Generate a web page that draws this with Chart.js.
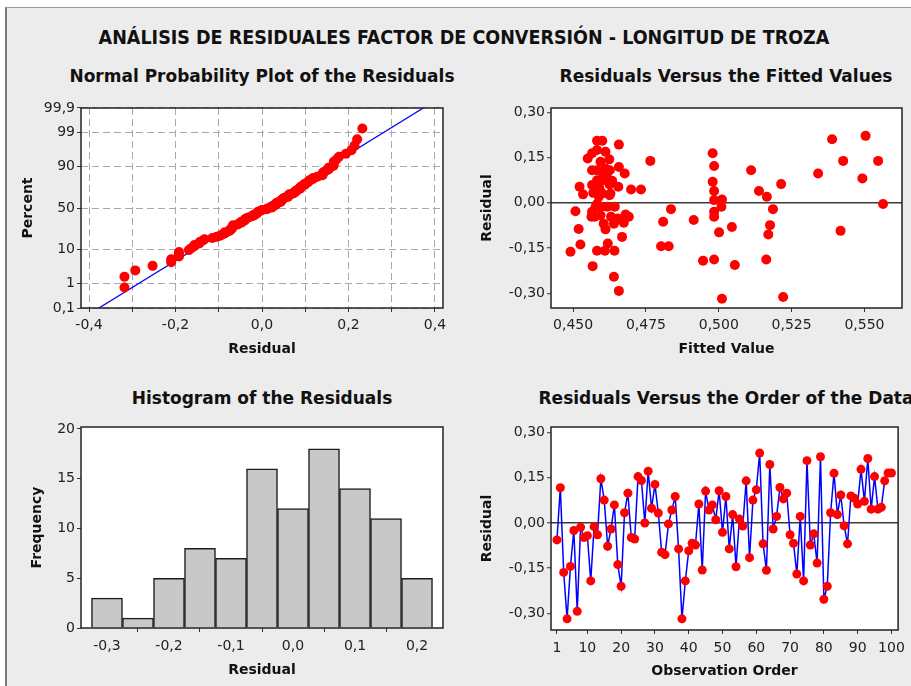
<!DOCTYPE html>
<html lang="es">
<head>
<meta charset="UTF-8">
<title>Análisis de residuales</title>
<script src="https://cdn.jsdelivr.net/npm/chart.js"></script>
<style>
  html, body { margin: 0; padding: 0; }
  body { width: 911px; height: 686px; overflow: hidden; position: relative; background: #fff; }
  #frame { position: absolute; left: 5px; top: 7px; width: 906px; height: 679px; background: #ececec;
           border-left: 2px solid #7a7a7a; border-top: 1px solid #9a9a9a; }
  #mainTitle { position: absolute; left: 0; width: 928px; top: 26px; text-align: center;
               font: bold 19.5px "DejaVu Sans Condensed", "DejaVu Sans", sans-serif; color: #111; }
  .ptitle { position: absolute; width: 500px; text-align: center;
            font: bold 17px "DejaVu Sans", sans-serif; color: #111; white-space: nowrap; }
  canvas { position: absolute; }
</style>
</head>
<body>
<div id="frame"></div>
<div id="mainTitle">ANÁLISIS DE RESIDUALES FACTOR DE CONVERSIÓN - LONGITUD DE TROZA</div>
<div class="ptitle" style="left:12px; top:66px;">Normal Probability Plot of the Residuals</div>
<div class="ptitle" style="left:476px; top:66px;">Residuals Versus the Fitted Values</div>
<div class="ptitle" style="left:12px; top:388px;">Histogram of the Residuals</div>
<div class="ptitle" style="left:476px; top:388px;">Residuals Versus the Order of the Data</div>
<canvas id="normChart" width="460" height="320" style="left:0; top:60px;"></canvas>
<canvas id="fitChart" width="451" height="320" style="left:460px; top:60px;"></canvas>
<canvas id="histChart" width="460" height="306" style="left:0; top:380px;"></canvas>
<canvas id="orderChart" width="451" height="306" style="left:460px; top:380px;"></canvas>
<script>
const orderResid = [
  -0.056, 0.117, -0.164, -0.318, -0.144, -0.025, -0.293, -0.014, -0.048, -0.042,
  -0.192, -0.012, -0.039, 0.147, 0.076, -0.077, -0.020, 0.060, -0.138, -0.210,
  0.034, 0.099, -0.048, -0.053, 0.154, 0.141, 0.000, 0.172, 0.049, 0.128,
  0.033, -0.097, -0.105, -0.003, 0.043, 0.088, -0.086, -0.318, -0.192, -0.092,
  -0.067, -0.073, 0.063, -0.156, 0.106, 0.043, 0.060, 0.011, 0.107, -0.031,
  0.088, -0.086, 0.028, -0.145, 0.013, -0.010, 0.140, -0.115, 0.076, 0.110,
  0.232, -0.069, -0.157, 0.194, -0.020, 0.022, 0.118, 0.080, 0.099, -0.039,
  -0.067, -0.169, 0.022, -0.192, 0.207, -0.073, -0.036, -0.133, 0.220, -0.253,
  -0.210, 0.034, 0.165, 0.028, 0.093, -0.009, -0.069, 0.090, 0.082, 0.063,
  0.178, 0.072, 0.214, 0.046, 0.154, 0.046, 0.052, 0.140, 0.166, 0.166
];

const fittedVals = [
  0.4491, 0.4508, 0.4519, 0.4525, 0.4522, 0.4534, 0.4550, 0.4565, 0.4567, 0.4565,
  0.4565, 0.4563, 0.4569, 0.4582, 0.4582, 0.4582, 0.4582, 0.4582, 0.4590, 0.4594,
  0.4594, 0.4594, 0.4600, 0.4603, 0.4605, 0.4611, 0.4611, 0.4609, 0.4611, 0.4617,
  0.4619, 0.4624, 0.4625, 0.4625, 0.4634, 0.4640, 0.4642, 0.4643, 0.4640, 0.4655,
  0.4657, 0.4657, 0.4657, 0.4653, 0.4668, 0.4674, 0.4677, 0.4680, 0.4691, 0.4577,
  0.4588, 0.4603, 0.4617, 0.4628, 0.4565, 0.4600, 0.4582, 0.4626, 0.4574, 0.4630,
  0.4765, 0.4699, 0.4733, 0.4809, 0.4836, 0.4802, 0.4828, 0.4914, 0.4946, 0.4979,
  0.4984, 0.4979, 0.4984, 0.4984, 0.5011, 0.4984, 0.4984, 0.5009, 0.5001, 0.5045,
  0.4984, 0.5055, 0.5011, 0.5111, 0.5138, 0.5165, 0.5186, 0.5176, 0.5170, 0.5163,
  0.5214, 0.5221, 0.5341, 0.5389, 0.5427, 0.5418, 0.5504, 0.5493, 0.5547, 0.5564
];
const fittedResid = [
  -0.162, -0.028, -0.087, -0.138, 0.053, 0.028, 0.147, 0.164, -0.210, 0.108,
  0.059, -0.046, 0.033, 0.206, 0.175, 0.108, -0.004, -0.159, 0.048, 0.136,
  -0.013, -0.041, 0.206, 0.086, -0.069, 0.169, 0.114, -0.159, -0.088, 0.083,
  -0.135, 0.144, 0.025, 0.061, 0.073, -0.245, -0.159, -0.013, -0.069, 0.053,
  0.193, 0.119, -0.292, -0.052, -0.113, -0.066, 0.097, -0.039, -0.046, -0.013,
  0.020, 0.075, -0.013, 0.031, -0.030, 0.031, 0.075, 0.108, -0.046, -0.046,
  0.139, 0.044, 0.044, -0.063, -0.021, -0.144, -0.144, -0.057, -0.192, 0.164,
  0.122, 0.070, 0.039, 0.009, 0.011, -0.030, -0.046, -0.013, -0.098, -0.080,
  -0.188, -0.206, -0.318, 0.108, 0.039, 0.020, -0.021, -0.074, -0.105, -0.188,
  0.062, -0.312, 0.097, 0.211, 0.139, -0.093, 0.222, 0.081, 0.139, -0.004
];

// histogram
const histCenters = [-0.30, -0.25, -0.20, -0.15, -0.10, -0.05, 0.00, 0.05, 0.10, 0.15, 0.20];
const histFreq = [3, 1, 5, 8, 7, 16, 12, 18, 14, 11, 5];

// normal probability plot: fitted line end points and tick labels
const fitLineX = [-0.377, 0.373];
const fitLinePct = [0.1, 99.9];
const normPctTicks = [0.1, 1, 10, 50, 90, 99, 99.9];
const normPctLabels = ['0,1', '1', '10', '50', '90', '99', '99,9'];
const normXTicks = [-0.4, -0.3, -0.2, -0.1, 0, 0.1, 0.2, 0.3, 0.4];
const normXLabels = ['-0,4', '', '-0,2', '', '0,0', '', '0,2', '', '0,4'];

const residTicks = [-0.30, -0.15, 0, 0.15, 0.30];
const fittedTicks = [0.450, 0.475, 0.500, 0.525, 0.550];
const histXTicks = [-0.3, -0.2, -0.1, 0, 0.1, 0.2];
const histYTicks = [0, 5, 10, 15, 20];
const orderTicks = [1, 10, 20, 30, 40, 50, 60, 70, 80, 90, 100];

// inverse normal cdf (Acklam)
function probit(p) {
  const a = [-39.69683028665376, 220.9460984245205, -275.9285104469687, 138.3577518672690, -30.66479806614716, 2.506628277459239];
  const b = [-54.47609879822406, 161.5858368580409, -155.6989798598866, 66.80131188771972, -13.28068155288572];
  const c = [-0.007784894002430293, -0.3223964580411365, -2.400758277161838, -2.549732539343734, 4.374664141464968, 2.938163982698783];
  const d = [0.007784695709041462, 0.3224671290700398, 2.445134137142996, 3.754408661907416];
  const tail = q => (((((c[0]*q+c[1])*q+c[2])*q+c[3])*q+c[4])*q+c[5]) / ((((d[0]*q+d[1])*q+d[2])*q+d[3])*q+1);
  if (p < 0.02425) return tail(Math.sqrt(-2 * Math.log(p)));
  if (p > 1 - 0.02425) return -tail(Math.sqrt(-2 * Math.log(1 - p)));
  const q = p - 0.5, r = q * q;
  return (((((a[0]*r+a[1])*r+a[2])*r+a[3])*r+a[4])*r+a[5])*q / (((((b[0]*r+b[1])*r+b[2])*r+b[3])*r+b[4])*r+1);
}

const comma = (v, d) => (Math.abs(v) < 1e-9 ? 0 : v).toFixed(d).replace('.', ',');
const tickFont = { family: 'DejaVu Sans', size: 14 };
const titleFont = { family: 'DejaVu Sans', size: 14, weight: 'bold' };

Chart.defaults.animation = false;
Chart.defaults.responsive = false;
Chart.defaults.plugins.legend.display = false;
Chart.defaults.plugins.tooltip.enabled = false;

// white plot area + black frame like Minitab
const framePlugin = {
  id: 'frame',
  beforeDraw(chart) {
    const { ctx, chartArea: a } = chart;
    ctx.save();
    ctx.fillStyle = '#ffffff';
    ctx.fillRect(a.left, a.top, a.right - a.left, a.bottom - a.top);
    ctx.restore();
  },
  afterDraw(chart) {
    const { ctx, chartArea: a } = chart;
    ctx.save();
    ctx.strokeStyle = '#222';
    ctx.lineWidth = 1.5;
    ctx.strokeRect(a.left, a.top, a.right - a.left, a.bottom - a.top);
    ctx.restore();
  }
};

function axis(o) {
  return {
    type: 'linear',
    min: o.min,
    max: o.max,
    afterBuildTicks: s => { s.ticks = o.ticks.map(v => ({ value: v })); },
    afterFit: s => { if (s.isHorizontal()) s.height = o.size; else s.width = o.size; },
    ticks: { font: tickFont, color: '#222', padding: o.pad, autoSkip: false, maxRotation: 0, callback: o.fmt },
    grid: Object.assign({ drawOnChartArea: false, tickLength: 4, tickColor: '#333', tickWidth: 1 }, o.grid || {}),
    border: { display: false, dash: o.dash || [] },
    title: { display: true, text: o.title, font: titleFont, color: '#111', padding: o.titlePad }
  };
}

// 1. normal probability plot
const sorted = orderResid.slice().sort((a, b) => a - b);
const n = sorted.length;
const normPts = sorted.map((r, i) => ({ x: r, y: probit((i + 1 - 0.3) / (n + 0.4)) }));
const zMin = probit(0.001), zMax = probit(0.999);
const dashGrid = { drawOnChartArea: true, color: '#a8a8a8', lineWidth: 1, tickBorderDash: [] };
const dash = [7, 4];

new Chart(document.getElementById('normChart'), {
  type: 'scatter',
  data: {
    datasets: [
      { data: normPts, pointRadius: 5, pointBackgroundColor: '#ff0000', pointBorderColor: '#ff0000', pointBorderWidth: 0 },
      { data: fitLineX.map((x, i) => ({ x, y: probit(fitLinePct[i] / 100) })), showLine: true,
        borderColor: '#0000ff', borderWidth: 1.3, pointRadius: 0 }
    ]
  },
  options: {
    layout: { padding: { left: 0, top: 48, right: 17, bottom: 0 } },
    scales: {
      x: axis({ min: -0.4185, max: 0.4185, ticks: normXTicks, size: 72, pad: 5, dash,
                fmt: (v, i) => normXLabels[i], title: 'Residual', titlePad: { bottom: 22 }, grid: dashGrid }),
      y: axis({ min: zMin, max: zMax, ticks: normPctTicks.map(p => probit(p / 100)), size: 81, pad: 2, dash,
                fmt: (v, i) => normPctLabels[i], title: 'Percent', titlePad: { top: 20 }, grid: dashGrid })
    }
  },
  plugins: [framePlugin]
});

// zero reference line for residual axes
const zeroGrid = {
  drawOnChartArea: true, lineWidth: 1.5,
  color: c => (c.tick && Math.abs(c.tick.value) < 1e-9 ? '#3a3a3a' : 'rgba(0,0,0,0)')
};

// 2. residuals versus fitted values
new Chart(document.getElementById('fitChart'), {
  type: 'scatter',
  data: {
    datasets: [{ data: fittedVals.map((x, i) => ({ x, y: fittedResid[i] })), pointRadius: 5,
                 pointBackgroundColor: '#ff0000', pointBorderColor: '#ff0000', pointBorderWidth: 0 }]
  },
  options: {
    layout: { padding: { left: 0, top: 48, right: 9, bottom: 0 } },
    scales: {
      x: axis({ min: 0.4424, max: 0.5629, ticks: fittedTicks, size: 72, pad: 5,
                fmt: v => comma(v, 3), title: 'Fitted Value', titlePad: { bottom: 22 } }),
      y: axis({ min: -0.3487, max: 0.3143, ticks: residTicks, size: 91, pad: 2,
                fmt: v => comma(v, 2), title: 'Residual', titlePad: { top: 19 }, grid: zeroGrid })
    }
  },
  plugins: [framePlugin]
});

// 3. histogram
new Chart(document.getElementById('histChart'), {
  type: 'bar',
  data: {
    datasets: [{ data: histCenters.map((x, i) => ({ x, y: histFreq[i] })),
                 backgroundColor: '#c8c8c8', borderColor: '#1e1e1e', borderWidth: 1.5,
                 barPercentage: 1, categoryPercentage: 1 }]
  },
  options: {
    layout: { padding: { left: 0, top: 47, right: 17, bottom: 0 } },
    scales: {
      x: Object.assign(axis({ min: -0.3419, max: 0.2419, ticks: histXTicks, size: 58, pad: 6,
                fmt: v => comma(v, 1), title: 'Residual', titlePad: { bottom: 7 } }), { offset: false }),
      y: axis({ min: 0, max: 20.2, ticks: histYTicks, size: 81, pad: 2,
                fmt: v => String(v), title: 'Frequency', titlePad: { top: 29 } })
    }
  },
  plugins: [framePlugin]
});

// 4. residuals versus order
new Chart(document.getElementById('orderChart'), {
  type: 'scatter',
  data: {
    datasets: [{ data: orderResid.map((r, i) => ({ x: i + 1, y: r })), showLine: true,
                 borderColor: '#0000ff', borderWidth: 1.5, pointRadius: 4.5,
                 pointBackgroundColor: '#ff0000', pointBorderColor: '#ff0000', pointBorderWidth: 0 }]
  },
  options: {
    layout: { padding: { left: 0, top: 47, right: 10, bottom: 0 } },
    scales: {
      x: axis({ min: -0.76, max: 101.97, ticks: orderTicks, size: 56, pad: 6,
                fmt: v => String(v), title: 'Observation Order', titlePad: { bottom: 6 } }),
      y: axis({ min: -0.355, max: 0.3186, ticks: residTicks, size: 91, pad: 2,
                fmt: v => comma(v, 2), title: 'Residual', titlePad: { top: 19 }, grid: zeroGrid })
    }
  },
  plugins: [framePlugin]
});
</script>
</body>
</html>
